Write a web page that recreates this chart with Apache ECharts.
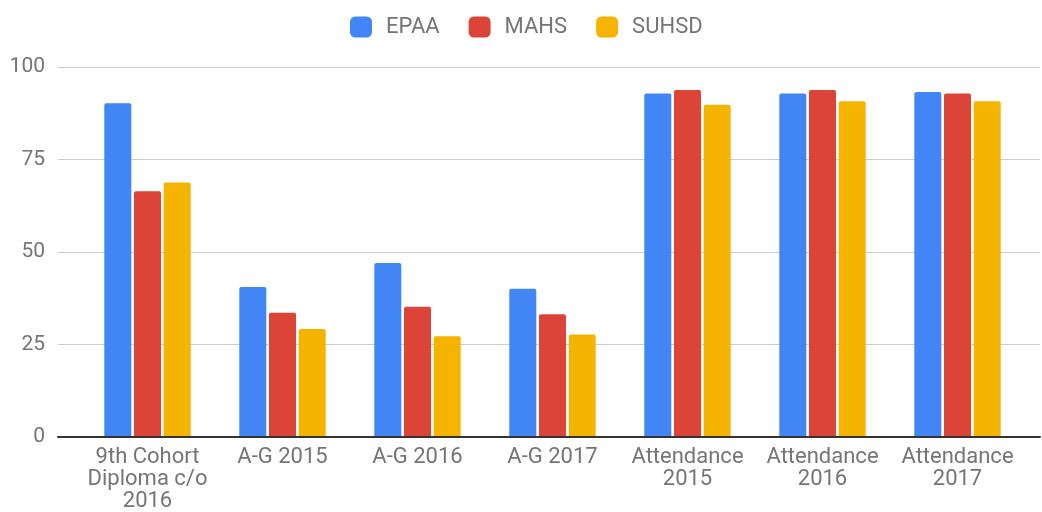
<!DOCTYPE html>
<html>
<head>
<meta charset="utf-8">
<script src="https://cdn.jsdelivr.net/npm/echarts@6/dist/echarts.min.js"></script>
<style>
  html, body { margin: 0; padding: 0; background: #fff; }
  #chart { width: 1042px; height: 512px; }
</style>
</head>
<body>
<div id="chart"></div>
<script>
// chart data
const categories = ['9th Cohort\nDiploma c/o\n2016', 'A-G 2015', 'A-G 2016', 'A-G 2017',
  'Attendance\n2015', 'Attendance\n2016', 'Attendance\n2017']
const seriesNames = ['EPAA', 'MAHS', 'SUHSD']
const epaa = [90.2, 40.4, 46.9, 39.9, 92.8, 92.8, 93.2]
const mahs = [66.3, 33.4, 35.0, 33.0, 93.8, 93.8, 92.8]
const suhsd = [68.7, 29.0, 27.0, 27.5, 89.8, 90.7, 90.7]
const yTicks = [0, 25, 50, 75, 100]
const colors = ['#4285f4', '#db4437', '#f4b400']

const chart = echarts.init(document.getElementById('chart'))
const font = 'Roboto, Arial, sans-serif'

const makeBar = (name, data, i) => ({
  name: name,
  type: 'bar',
  xAxisIndex: 1,
  yAxisIndex: 1,
  data: data,
  barWidth: 27,
  barGap: '10%',
  itemStyle: { color: colors[i], borderRadius: [2, 2, 0, 0] }
})

chart.setOption({
  animation: false,
  textStyle: { fontFamily: font },
  legend: {
    top: 11,
    left: 345,
    itemWidth: 22,
    itemHeight: 21,
    itemGap: 29,
    icon: 'roundRect',
    textStyle: { fontSize: 22, color: '#757575', fontFamily: font, padding: [0, 0, 0, 9] },
    data: seriesNames
  },
  grid: [
    { left: 58, right: 2, top: 67, bottom: 75 },
    { left: 80, right: 17, top: 67, bottom: 75 }
  ],
  xAxis: [
    {
      gridIndex: 0,
      type: 'value',
      min: 0,
      max: 1,
      axisLine: { show: true, onZero: false, lineStyle: { color: '#333', width: 2 } },
      axisTick: { show: false },
      axisLabel: { show: false },
      splitLine: { show: false }
    },
    {
      gridIndex: 1,
      type: 'category',
      data: categories,
      axisLine: { show: false },
      axisTick: { show: false },
      axisLabel: {
        fontSize: 22,
        color: '#757575',
        lineHeight: 22,
        margin: 10,
        interval: 0,
        fontFamily: font
      }
    }
  ],
  yAxis: [
    {
      gridIndex: 0,
      type: 'value',
      min: yTicks[0],
      max: yTicks[yTicks.length - 1],
      interval: 25,
      axisLine: { show: false },
      axisTick: { show: false },
      axisLabel: { fontSize: 21, color: '#757575', margin: 13, fontFamily: font },
      splitLine: { lineStyle: { color: '#cccccc', width: 1 } }
    },
    {
      gridIndex: 1,
      type: 'value',
      min: yTicks[0],
      max: yTicks[yTicks.length - 1],
      interval: 25,
      show: false
    }
  ],
  series: [
    makeBar(seriesNames[0], epaa, 0),
    makeBar(seriesNames[1], mahs, 1),
    makeBar(seriesNames[2], suhsd, 2)
  ]
})
</script>
</body>
</html>
